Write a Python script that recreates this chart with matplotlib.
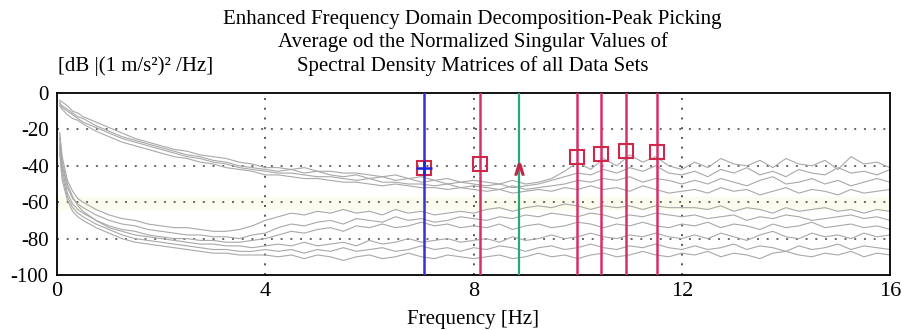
import numpy as np
import matplotlib.pyplot as plt

plt.rcParams['font.family'] = ['Liberation Serif', 'DejaVu Serif']
plt.rcParams['axes.unicode_minus'] = False

# frequency grid [Hz]: a few low-frequency samples, then 0.25 Hz steps
freq = np.concatenate([[0.05, 0.1, 0.2, 0.3, 0.4], np.arange(0.5, 16.01, 0.25)])

# normalized singular values [dB], upper group
sv_u1 = ([-4, -5, -7, -10, -11]
         + [-13, -16, -19, -22, -25, -27, -29, -31, -32, -34, -35, -36, -38, -39, -41]
         + [-41, -42, -41, -43, -43, -44, -44, -45, -46, -45, -47, -46, -48, -47, -49, -48]
         + [-49, -50, -48, -50, -49, -47, -43, -38, -42, -36, -40, -34, -38, -35, -40, -42]
         + [-38, -41, -36, -39, -40, -37, -41, -36, -39, -40, -37, -42, -35, -39, -38, -41])
sv_u2 = ([-6, -7, -9, -11, -13]
         + [-14, -18, -21, -24, -26, -28, -30, -32, -34, -35, -37, -38, -40, -41, -42]
         + [-43, -42, -44, -43, -45, -46, -45, -47, -46, -48, -47, -49, -48, -50, -49, -50]
         + [-51, -50, -52, -51, -50, -48, -46, -44, -45, -42, -44, -41, -43, -40, -44, -45]
         + [-43, -46, -42, -44, -41, -45, -43, -46, -42, -44, -45, -41, -44, -43, -45, -42])
sv_u3 = ([-5, -8, -10, -12, -14]
         + [-16, -19, -22, -25, -27, -29, -31, -33, -35, -36, -38, -39, -41, -42, -43]
         + [-44, -44, -45, -46, -46, -47, -48, -47, -49, -49, -50, -50, -51, -50, -52, -51]
         + [-52, -53, -51, -53, -52, -51, -50, -48, -49, -47, -48, -46, -49, -47, -48, -50]
         + [-48, -50, -47, -49, -51, -48, -46, -50, -49, -47, -50, -48, -51, -49, -47, -49])
sv_u4 = ([-7, -9, -12, -14, -15]
         + [-17, -21, -24, -27, -29, -31, -33, -35, -36, -38, -39, -41, -42, -43, -45]
         + [-45, -46, -47, -47, -48, -49, -49, -50, -51, -50, -51, -52, -52, -53, -52, -53]
         + [-54, -53, -55, -54, -53, -54, -52, -53, -51, -53, -52, -54, -51, -53, -55, -54]
         + [-53, -55, -52, -54, -53, -56, -54, -52, -55, -53, -54, -56, -53, -55, -54, -53])

# lower group
sv_l1 = ([-22, -35, -48, -54, -58]
         + [-60, -64, -67, -69, -70, -72, -73, -74, -74, -75, -76, -76, -75, -73, -70]
         + [-68, -66, -67, -65, -66, -64, -66, -65, -67, -64, -66, -65, -67, -66, -65, -66]
         + [-64, -63, -65, -63, -62, -63, -61, -62, -64, -62, -63, -62, -64, -62, -63, -63]
         + [-63, -64, -62, -65, -63, -64, -66, -63, -65, -64, -63, -65, -64, -66, -64, -65])
sv_l2 = ([-25, -40, -52, -58, -61]
         + [-63, -67, -70, -72, -73, -75, -76, -77, -78, -78, -79, -79, -80, -78, -77]
         + [-74, -72, -73, -71, -70, -72, -69, -70, -71, -68, -70, -69, -71, -70, -68, -69]
         + [-70, -68, -69, -67, -68, -66, -67, -68, -66, -67, -69, -67, -68, -66, -67, -68]
         + [-67, -69, -68, -67, -70, -68, -69, -67, -68, -70, -69, -68, -67, -69, -68, -70])
sv_l3 = ([-28, -42, -55, -61, -64]
         + [-66, -70, -73, -75, -76, -78, -79, -80, -80, -81, -81, -82, -82, -81, -80]
         + [-78, -76, -77, -75, -74, -76, -73, -74, -72, -74, -73, -71, -73, -72, -74, -73]
         + [-74, -72, -75, -73, -72, -74, -73, -71, -72, -74, -72, -73, -71, -73, -74, -72]
         + [-73, -71, -74, -72, -73, -75, -72, -74, -73, -71, -74, -73, -72, -74, -73, -75])
sv_l4 = ([-22, -38, -50, -57, -62]
         + [-65, -70, -74, -76, -78, -79, -80, -81, -82, -83, -83, -84, -84, -85, -84]
         + [-83, -84, -82, -84, -83, -82, -84, -81, -83, -82, -80, -82, -81, -80, -82, -81]
         + [-80, -82, -79, -81, -80, -78, -80, -79, -77, -79, -80, -78, -79, -77, -79, -80]
         + [-78, -80, -77, -79, -81, -78, -76, -79, -80, -77, -79, -78, -80, -77, -79, -78])
sv_l5 = ([-30, -45, -57, -63, -66]
         + [-68, -72, -75, -78, -80, -81, -82, -83, -84, -85, -86, -86, -87, -87, -86]
         + [-87, -86, -88, -86, -87, -85, -87, -86, -85, -87, -86, -84, -86, -85, -87, -85]
         + [-86, -84, -85, -87, -85, -84, -86, -85, -83, -85, -86, -84, -85, -83, -85, -86]
         + [-84, -86, -85, -83, -86, -84, -85, -87, -84, -86, -85, -83, -86, -84, -85, -86])
sv_l6 = ([-33, -48, -59, -65, -68]
         + [-70, -74, -77, -80, -82, -83, -84, -85, -86, -87, -88, -88, -89, -89, -89]
         + [-90, -89, -91, -89, -90, -92, -90, -89, -91, -90, -88, -90, -91, -89, -90, -91]
         + [-90, -89, -91, -90, -88, -90, -89, -91, -89, -88, -90, -89, -87, -89, -90, -88]
         + [-89, -87, -90, -88, -89, -91, -88, -87, -89, -90, -88, -89, -87, -90, -88, -89])

curves = [sv_u1, sv_u2, sv_u3, sv_u4, sv_l1, sv_l2, sv_l3, sv_l4, sv_l5, sv_l6]

# picked modes
peak_freq = [7.05, 8.12, 9.99, 10.45, 10.92, 11.52]
peak_db = [-41, -39, -35, -33.5, -32, -32.5]
line_color = ['#3434d0', '#d6306a', '#d6306a', '#d6306a', '#d6306a', '#d6306a']
extra_freq = 8.87     # rejected candidate
extra_db = -42

fig = plt.figure(figsize=(9.02, 3.30), dpi=100)
ax = fig.add_axes([57 / 902, 1 - 275 / 330, 833 / 902, 182 / 330])

ax.axhspan(-64, -57, color='#fcfcee', zorder=0)

for c in curves:
    ax.plot(freq, c, color='#a8a8a8', lw=0.8, zorder=2)

for v in [4, 8, 12]:
    ax.axvline(v, color='#555555', lw=1.4, ls=(0, (1, 4)), zorder=1)
for v in [-20, -40, -60, -80]:
    ax.axhline(v, color='#666666', lw=1.4, ls=(0, (1, 4)), zorder=1)

for f, col in zip(peak_freq, line_color):
    ax.axvline(f, color=col, lw=1.8, zorder=3)
ax.axvline(extra_freq, color='#2aa878', lw=1.6, zorder=3)

ax.plot(peak_freq, peak_db, ls='none', marker='s', ms=10, mfc='none',
        mec='#d0284a', mew=1.5, zorder=4)
ax.plot(peak_freq[0], peak_db[0], ls='none', marker='+', ms=12,
        mec='#2020e0', mew=1.8, zorder=5)
ax.plot(extra_freq, extra_db, ls='none', marker=r'$\wedge$', ms=8,
        color='#c0284a', zorder=5)

ax.set_xlim(0, 16)
ax.set_ylim(-100, 0)
ax.set_xticks([0, 4, 8, 12, 16])
ax.set_yticks([0, -20, -40, -60, -80, -100])
ax.tick_params(length=0, labelsize=15)
ax.tick_params(axis='x', pad=5, labelsize=16)
ax.tick_params(axis='y', pad=6)
for s in ax.spines.values():
    s.set_linewidth(1.3)

fig.text(0.524, 1 - 24 / 330, 'Enhanced Frequency Domain Decomposition-Peak Picking',
         ha='center', va='baseline', fontsize=15)
fig.text(0.524, 1 - 47.5 / 330, 'Average od the Normalized Singular Values of',
         ha='center', va='baseline', fontsize=15)
fig.text(0.524, 1 - 71 / 330, 'Spectral Density Matrices of all Data Sets',
         ha='center', va='baseline', fontsize=15)
fig.text(136 / 902, 1 - 71 / 330, '[dB |(1 m/s²)² /Hz]',
         ha='center', va='baseline', fontsize=15)
fig.text(0.524, 1 - 324 / 330, 'Frequency [Hz]', ha='center', va='baseline', fontsize=15)

fig.savefig('out.png', dpi=100)
